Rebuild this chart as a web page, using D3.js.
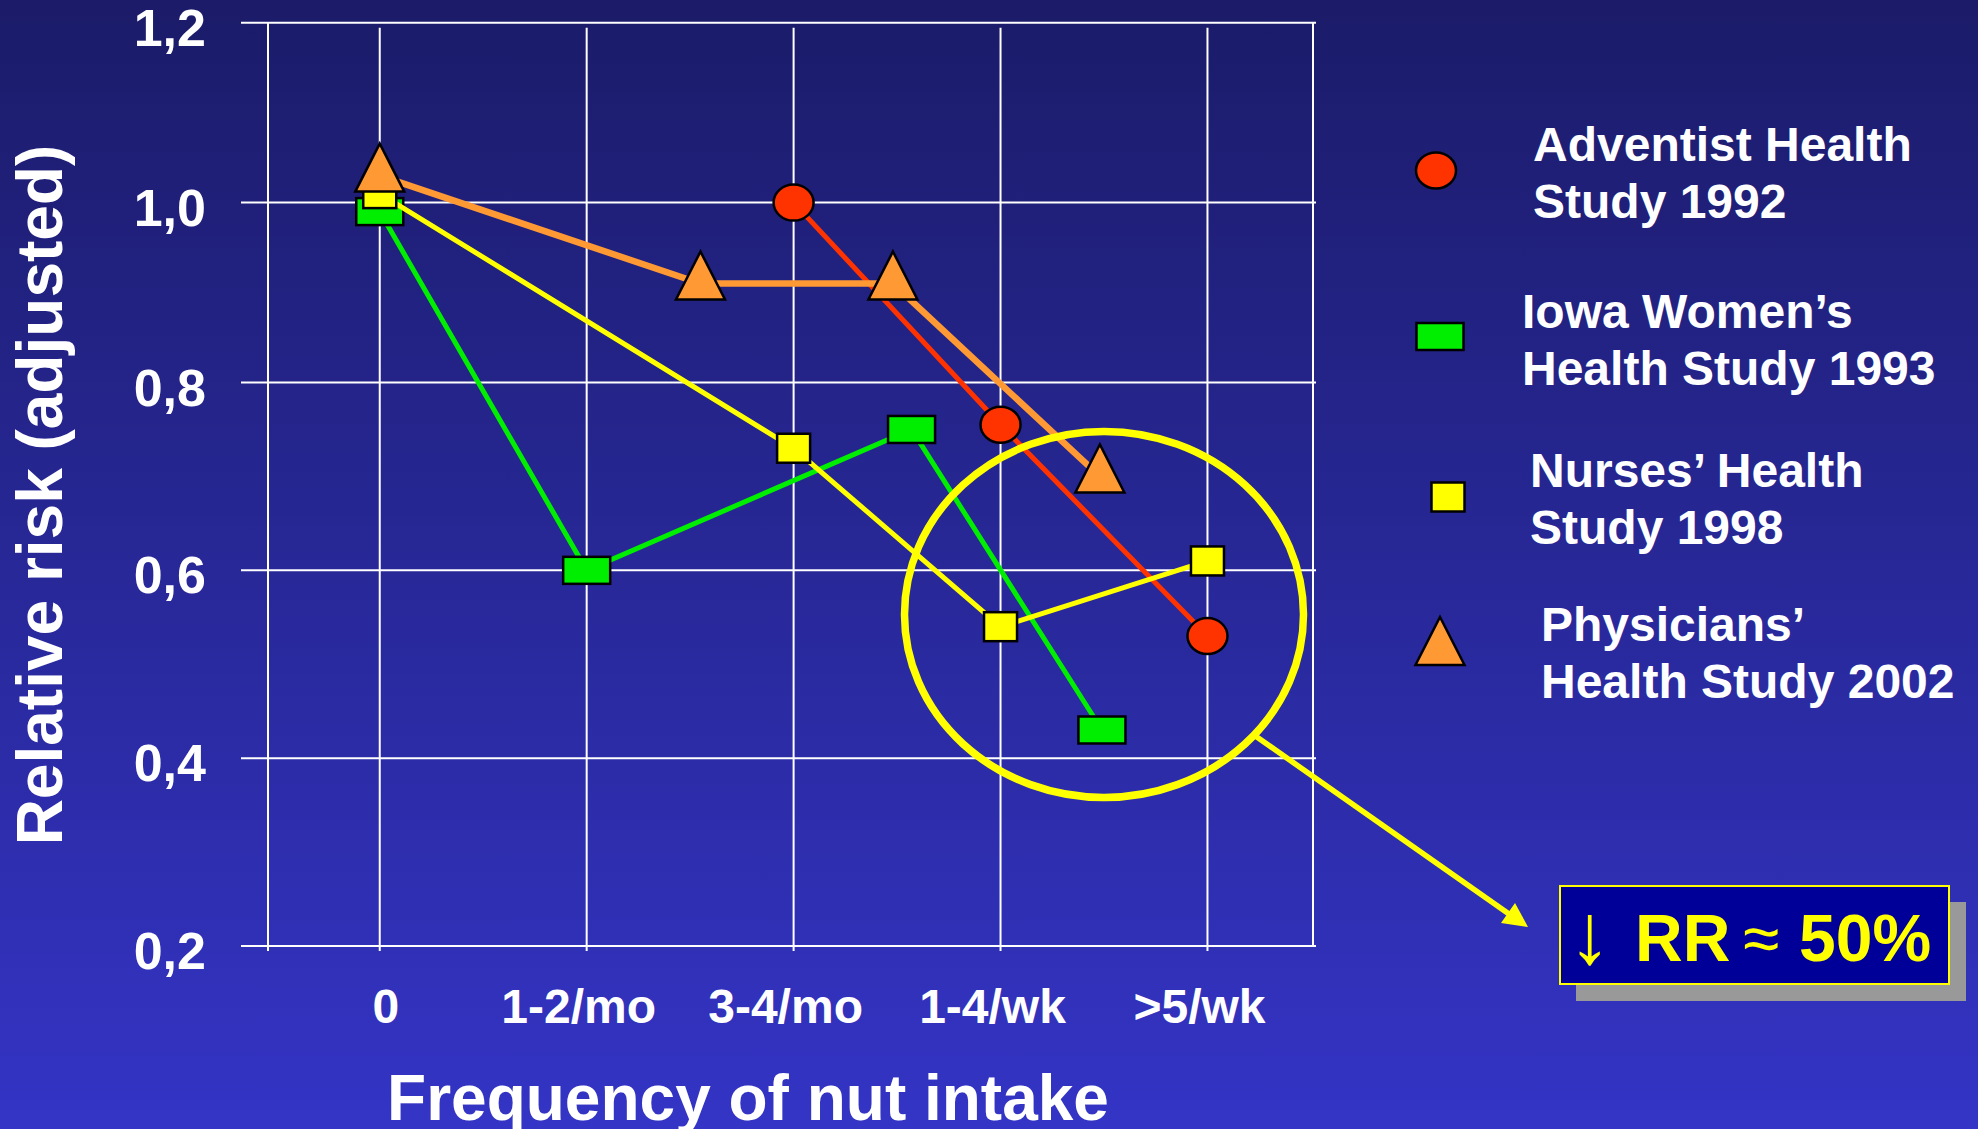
<!DOCTYPE html>
<html>
<head>
<meta charset="utf-8">
<script src="https://cdn.jsdelivr.net/npm/d3@7"></script>
<style>
body { margin: 0; background: #1C1C6A; }
svg { display: block; font-family: "Liberation Sans", Arial, sans-serif; font-weight: bold; }
</style>
</head>
<body>
<div id="chart-area"></div>
<script>
// Relative risk by frequency of nut intake
var categories = ["0", "1-2/mo", "3-4/mo", "1-4/wk", ">5/wk"];
var yTicks = [0.2, 0.4, 0.6, 0.8, 1.0, 1.2];

var adventistX = [2, 3, 4];
var adventistRR = [1.0, 0.755, 0.53];
var iowaX = [0, 1, 2.57, 3.49];
var iowaRR = [0.99, 0.6, 0.75, 0.43];
var nursesX = [0, 2, 3, 4];
var nursesRR = [1.01, 0.73, 0.54, 0.61];
var physiciansX = [0, 1.55, 2.48, 3.48];
var physiciansRR = [1.03, 0.91, 0.91, 0.70];

var seriesNames = [
    ["Adventist Health", "Study 1992"],
    ["Iowa Women\u2019s", "Health Study 1993"],
    ["Nurses\u2019 Health", "Study 1998"],
    ["Physicians\u2019", "Health Study 2002"]
];

var width = 1978,
    height = 1129;

var svg = d3.select("#chart-area").append("svg")
    .attr("width", width)
    .attr("height", height);

// background gradient
var grad = svg.append("defs").append("linearGradient")
    .attr("id", "bg")
    .attr("x1", 0).attr("y1", 0)
    .attr("x2", 0).attr("y2", 1);
grad.append("stop").attr("offset", "0%").attr("stop-color", "#1B1B69");
grad.append("stop").attr("offset", "100%").attr("stop-color", "#3434C6");
svg.append("rect")
    .attr("width", width)
    .attr("height", height)
    .attr("fill", "url(#bg)");

var x = d3.scaleLinear().domain([-0.54, 4.51]).range([268, 1313]);
// the slide's value axis is slightly uneven, so it is mapped in two parts
var y = d3.scaleLinear().domain([0.2, 0.8, 1.2]).range([946, 382.5, 22.7]);

var fmt = d3.formatLocale({decimal: ",", thousands: ".", grouping: [3], currency: ["", ""]}).format(".1f");

var g = svg.append("g");

// horizontal grid
g.selectAll("line.hgrid")
    .data(yTicks)
    .enter().append("line")
    .attr("class", "hgrid")
    .attr("x1", 241)
    .attr("x2", 1316)
    .attr("y1", (d) => y(d))
    .attr("y2", (d) => y(d))
    .attr("stroke", "white")
    .attr("stroke-width", 2);

// vertical grid at each category
g.selectAll("line.vgrid")
    .data(categories)
    .enter().append("line")
    .attr("class", "vgrid")
    .attr("x1", (d, i) => x(i))
    .attr("x2", (d, i) => x(i))
    .attr("y1", y(1.2) + 5)
    .attr("y2", y(0.2) + 5)
    .attr("stroke", "white")
    .attr("stroke-width", 2);

// plot borders
g.append("line")
    .attr("x1", x(-0.54)).attr("x2", x(-0.54))
    .attr("y1", y(1.2)).attr("y2", y(0.2) + 5)
    .attr("stroke", "white").attr("stroke-width", 2);
g.append("line")
    .attr("x1", x(4.51)).attr("x2", x(4.51))
    .attr("y1", y(1.2)).attr("y2", y(0.2))
    .attr("stroke", "white").attr("stroke-width", 2);

// Y tick labels
g.selectAll("text.ylab")
    .data(yTicks)
    .enter().append("text")
    .attr("class", "ylab")
    .attr("x", 206)
    .attr("y", (d) => y(d) + 23)
    .attr("text-anchor", "end")
    .attr("font-size", "52px")
    .attr("fill", "white")
    .text((d) => fmt(d));

// X tick labels
g.selectAll("text.xlab")
    .data(categories)
    .enter().append("text")
    .attr("class", "xlab")
    .attr("x", (d, i) => x(i))
    .attr("dx", (d, i) => i == 0 ? 6 : -8)
    .attr("y", 1023)
    .attr("text-anchor", "middle")
    .attr("font-size", "48px")
    .attr("fill", "white")
    .text((d) => d);

// X Label
svg.append("text")
    .attr("x", 748)
    .attr("y", 1120)
    .attr("text-anchor", "middle")
    .attr("font-size", "64px")
    .attr("fill", "white")
    .text("Frequency of nut intake");

// Y Label
svg.append("text")
    .attr("transform", "translate(62, 495) rotate(-90)")
    .attr("text-anchor", "middle")
    .attr("font-size", "64px")
    .attr("fill", "white")
    .text("Relative risk (adjusted)");

// marker shapes
function drawMarker(sel, shape, color) {
    if (shape == "circle") {
        sel.append("ellipse").attr("rx", 20).attr("ry", 18);
    } else if (shape == "wide") {
        sel.append("rect").attr("x", -23.5).attr("y", -13.5).attr("width", 47).attr("height", 27);
    } else if (shape == "square") {
        sel.append("rect").attr("x", -16.5).attr("y", -14.5).attr("width", 33).attr("height", 29);
    } else {
        sel.append("path").attr("d", "M0,-32L24.5,16L-24.5,16Z");
    }
    sel.selectAll("*")
        .attr("fill", color)
        .attr("stroke", "black")
        .attr("stroke-width", 2.5);
}

var series = [
    {xs: adventistX, rr: adventistRR, color: "#FF3300", lw: 5, shape: "circle"},
    {xs: iowaX, rr: iowaRR, color: "#00EE00", lw: 5, shape: "wide"},
    {xs: nursesX, rr: nursesRR, color: "#FFFF00", lw: 5, shape: "square"},
    {xs: physiciansX, rr: physiciansRR, color: "#FF9933", lw: 6.5, shape: "triangle"}
];

var line = d3.line()
    .x((d) => x(d.x))
    .y((d) => y(d.rr));

series.forEach((s) => {
    var pts = s.xs.map((v, i) => ({x: v, rr: s.rr[i]}));
    g.append("path")
        .datum(pts)
        .attr("d", line)
        .attr("fill", "none")
        .attr("stroke", s.color)
        .attr("stroke-width", s.lw);
    g.selectAll(null)
        .data(pts)
        .enter().append("g")
        .attr("transform", (d) => "translate(" + x(d.x) + "," + y(d.rr) + ")")
        .each(function() { drawMarker(d3.select(this), s.shape, s.color); });
});

// Legend
var legendMarkers = [[1436, 170.5], [1440, 336.5], [1448, 497], [1440, 649]];
var legendText = [[1533, 161], [1522, 328], [1530, 487], [1541, 641]];
var legend = svg.append("g");
series.forEach((s, i) => {
    var m = legend.append("g")
        .attr("transform", "translate(" + legendMarkers[i][0] + "," + legendMarkers[i][1] + ")");
    drawMarker(m, s.shape, s.color);
    var t = legend.append("text")
        .attr("x", legendText[i][0])
        .attr("y", legendText[i][1])
        .attr("font-size", "48px")
        .attr("fill", "white");
    seriesNames[i].forEach((txt, j) => {
        t.append("tspan")
            .attr("x", legendText[i][0])
            .attr("dy", j == 0 ? 0 : 57)
            .text(txt);
    });
});

// Highlight ellipse and arrow
var note = svg.append("g");
note.append("ellipse")
    .attr("cx", x(3.5))
    .attr("cy", y(0.553))
    .attr("rx", 199.5)
    .attr("ry", 183)
    .attr("fill", "none")
    .attr("stroke", "#FFFF00")
    .attr("stroke-width", 7.5);
note.append("line")
    .attr("x1", 1254).attr("y1", 735)
    .attr("x2", 1509).attr("y2", 914)
    .attr("stroke", "#FFFF00")
    .attr("stroke-width", 5.5);
note.append("path")
    .attr("d", "M1528,927L1501,923L1515,903Z")
    .attr("fill", "#FFFF00");

// RR box
note.append("rect")
    .attr("x", 1576).attr("y", 902)
    .attr("width", 390).attr("height", 99)
    .attr("fill", "#999999");
note.append("rect")
    .attr("x", 1560).attr("y", 886)
    .attr("width", 389).attr("height", 98)
    .attr("fill", "#000099")
    .attr("stroke", "#FFFF00")
    .attr("stroke-width", 2);
var rr = note.append("text")
    .attr("y", 961)
    .attr("font-size", "66px")
    .attr("fill", "#FFFF00");
rr.append("tspan").attr("x", 1568).attr("y", 963).attr("font-size", "86px").attr("font-weight", "normal").text("\u2193");
rr.append("tspan").attr("x", 1635).attr("y", 961).text("RR");
rr.append("tspan").attr("x", 1743).attr("font-weight", "normal").text("\u2248");
rr.append("tspan").attr("x", 1799).text("50%");
</script>
</body>
</html>
